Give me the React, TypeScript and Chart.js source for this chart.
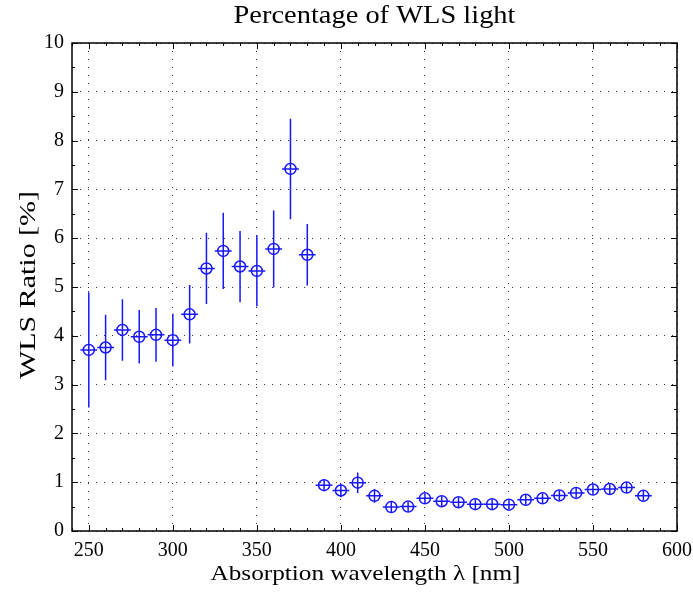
import React, { useEffect, useRef } from 'react';
import { Chart, registerables } from 'chart.js';

Chart.register(...registerables);

const wavelengths = [250, 260, 270, 280, 290, 300, 310, 320, 330, 340, 350, 360, 370, 380,
  390, 400, 410, 420, 430, 440, 450, 460, 470, 480, 490, 500, 510, 520, 530, 540, 550, 560, 570, 580];
const ratios = [3.71, 3.76, 4.12, 3.98, 4.02, 3.91, 4.44, 5.38, 5.74, 5.42, 5.33, 5.78, 7.42, 5.66,
  0.94, 0.83, 0.99, 0.72, 0.49, 0.50, 0.67, 0.61, 0.59, 0.55, 0.55, 0.54, 0.64, 0.67, 0.73, 0.78, 0.85, 0.86, 0.89, 0.72];
const ratioErrors = [1.18, 0.67, 0.63, 0.55, 0.55, 0.54, 0.60, 0.73, 0.78, 0.73, 0.73, 0.79, 1.03, 0.63,
  0.12, 0.14, 0.21, 0.14, 0.11, 0.10, 0.10, 0.10, 0.10, 0.10, 0.10, 0.10, 0.10, 0.10, 0.10, 0.10, 0.10, 0.10, 0.11, 0.10];
const wavelengthErrors = [5, 5, 5, 5, 5, 5, 5, 5, 5, 5, 5, 5, 5, 5,
  5, 5, 5, 5, 5, 5, 5, 5, 5, 5, 5, 5, 5, 5, 5, 5, 5, 5, 5, 5];
const xTickValues = [250, 300, 350, 400, 450, 500, 550, 600];
const yTickValues = [0, 1, 2, 3, 4, 5, 6, 7, 8, 9, 10];

const TITLE = 'Percentage of WLS light';
const X_LABEL = 'Absorption wavelength \u03bb [nm]';
const Y_LABEL = 'WLS Ratio [%]';

const BLUE = '#1818ff';
const FONT = '"Liberation Serif", "DejaVu Serif", serif';

function drawFitted(ctx: CanvasRenderingContext2D, text: string, size: number, x: number, y: number, width: number, rotate: boolean) {
  ctx.save();
  ctx.font = `${size}px ${FONT}`;
  const w = ctx.measureText(text).width;
  ctx.translate(x, y);
  if (rotate) ctx.rotate(-Math.PI / 2);
  ctx.scale(width / w, 1);
  ctx.fillStyle = '#000';
  ctx.textAlign = 'center';
  ctx.textBaseline = 'alphabetic';
  ctx.fillText(text, 0, 0);
  ctx.restore();
}

const decorPlugin = {
  id: 'decor',
  afterDatasetsDraw(chart: any) {
    const ctx = chart.ctx;
    const xs = chart.scales.x;
    const ys = chart.scales.y;
    const meta = chart.getDatasetMeta(0);
    ctx.save();
    ctx.strokeStyle = BLUE;
    ctx.lineWidth = 1.5;
    meta.data.forEach((_pt: any, i: number) => {
      const x = wavelengths[i];
      const y = ratios[i];
      const e = ratioErrors[i];
      const xe = wavelengthErrors[i];
      ctx.beginPath();
      ctx.moveTo(xs.getPixelForValue(x), ys.getPixelForValue(y - e));
      ctx.lineTo(xs.getPixelForValue(x), ys.getPixelForValue(y + e));
      ctx.moveTo(xs.getPixelForValue(x - xe), ys.getPixelForValue(y));
      ctx.lineTo(xs.getPixelForValue(x + xe), ys.getPixelForValue(y));
      ctx.stroke();
    });
    ctx.restore();
  },
  afterDraw(chart: any) {
    const ctx = chart.ctx;
    const { left, right, top, bottom } = chart.chartArea;
    const xs = chart.scales.x;
    const ys = chart.scales.y;
    ctx.save();
    ctx.strokeStyle = '#000';
    ctx.lineWidth = 1;
    ctx.beginPath();
    for (let v = xs.min; v <= xs.max + 1e-9; v += 10) {
      const px = Math.round(xs.getPixelForValue(v)) + 0.5;
      const len = xTickValues.includes(v) ? 6 : 3;
      ctx.moveTo(px, bottom); ctx.lineTo(px, bottom - len);
      ctx.moveTo(px, top); ctx.lineTo(px, top + len);
    }
    for (let v = ys.min; v <= ys.max + 1e-9; v += 0.5) {
      const py = Math.round(ys.getPixelForValue(v)) + 0.5;
      const len = Number.isInteger(v) ? 6 : 3;
      ctx.moveTo(left, py); ctx.lineTo(left + len, py);
      ctx.moveTo(right, py); ctx.lineTo(right - len, py);
    }
    ctx.stroke();
    ctx.lineWidth = 1.5;
    ctx.strokeRect(Math.round(left), Math.round(top), Math.round(right - left), Math.round(bottom - top));
    ctx.restore();
    const cx = (left + right) / 2;
    const cy = (top + bottom) / 2;
    drawFitted(ctx, TITLE, 25, cx, 23, 282, false);
    drawFitted(ctx, X_LABEL, 21, cx - 9, 580, 310, false);
    drawFitted(ctx, Y_LABEL, 24, 35, cy - 2, 188, true);
  },
};

export default function App() {
  const ref = useRef<HTMLCanvasElement | null>(null);
  useEffect(() => {
    if (!ref.current) return;
    const chart = new Chart(ref.current, {
      type: 'scatter',
      data: {
        datasets: [
          {
            data: wavelengths.map((w, i) => ({ x: w, y: ratios[i] })),
            showLine: false,
            pointRadius: 5.5,
            pointHoverRadius: 5.5,
            pointBorderWidth: 1.5,
            pointBorderColor: BLUE,
            pointBackgroundColor: 'rgba(0,0,0,0)',
          },
        ],
      },
      options: {
        responsive: false,
        animation: false,
        layout: { padding: { top: 43, right: 16, left: 0, bottom: 0 } },
        plugins: {
          legend: { display: false },
          tooltip: { enabled: false },
          title: { display: false },
        },
        scales: {
          x: {
            type: 'linear',
            min: 240,
            max: 600,
            afterBuildTicks: (scale: any) => {
              scale.ticks = xTickValues.map((v) => ({ value: v }));
            },
            afterFit: (scale: any) => {
              scale.height = 61;
              scale.paddingLeft = 0;
              scale.paddingRight = 0;
            },
            grid: { color: '#333', lineWidth: 1, drawTicks: false },
            border: { display: false, dash: [1, 7] },
            ticks: {
              color: '#000',
              padding: 8,
              maxRotation: 0,
              autoSkip: false,
              font: { family: FONT, size: 20 },
            },
          },
          y: {
            type: 'linear',
            min: 0,
            max: 10,
            afterBuildTicks: (scale: any) => {
              scale.ticks = yTickValues.map((v) => ({ value: v }));
            },
            afterFit: (scale: any) => {
              scale.width = 72;
              scale.paddingTop = 0;
              scale.paddingBottom = 0;
            },
            grid: { color: '#333', lineWidth: 1, drawTicks: false },
            border: { display: false, dash: [1, 7] },
            ticks: {
              color: '#000',
              padding: 8,
              autoSkip: false,
              font: { family: FONT, size: 20 },
            },
          },
        },
      },
      plugins: [decorPlugin],
    });
    return () => chart.destroy();
  }, []);
  return (
    <div style={{ position: 'absolute', left: 0, top: 0, width: 693, height: 592, background: '#fff' }}>
      <canvas ref={ref} width={693} height={592} />
    </div>
  );
}
